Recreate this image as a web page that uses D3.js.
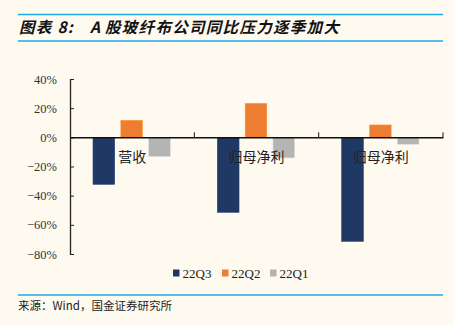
<!DOCTYPE html>
<html>
<head>
<meta charset="utf-8">
<script src="https://cdn.jsdelivr.net/npm/d3@7"></script>
<style>
  body { margin: 0; background: #fefaf0; }
  svg { display: block; }
</style>
</head>
<body>
<div class="chart"></div>
<script>
const categories = ["营收", "归母净利", "归母净利"]
const seriesNames = ["22Q3", "22Q2", "22Q1"]
const q3 = [-32.2, -51.4, -71.3]
const q2 = [11.7, 23.3, 8.5]
const q1 = [-13.2, -14.1, -4.8]
const yTicks = [40, 20, 0, -20, -40, -60, -80]
const colors = ["#1f3864", "#ed7d31", "#b4b4b4"]

const series = [q3, q2, q1]
const data = categories.map((c, i) => ({
    idx: i,
    cat: c,
    values: seriesNames.map((s, j) => ({ s: s, v: series[j][i], color: colors[j] }))
}))

let width = 454
let height = 325
let margin = {top: 79, bottom: 71, left: 70, right: 11}
let w = width - margin.left - margin.right
let h = height - margin.top - margin.bottom

const svg = d3.select(".chart")
    .append("svg")
    .attr("width", width)
    .attr("height", height)

svg.append("rect")
    .attr("width", width)
    .attr("height", height)
    .attr("fill", "#fefaf0")

// title and rules
svg.append("line")
    .attr("x1", 18).attr("x2", 443)
    .attr("y1", 14.5).attr("y2", 14.5)
    .attr("stroke", "#1ea8e8").attr("stroke-width", 1.5)
svg.append("line")
    .attr("x1", 18).attr("x2", 443)
    .attr("y1", 41).attr("y2", 41)
    .attr("stroke", "#1ea8e8").attr("stroke-width", 1.5)

const titleParts = [
    {x: 19, t: "图表 8:"},
    {x: 90, t: "A"},
    {x: 105, t: "股玻纤布公司同比压力逐季加大"}
]
svg.selectAll(".title")
    .data(titleParts)
    .enter()
    .append("text")
    .attr("x", d => d.x)
    .attr("y", 33)
    .attr("font-family", "'Noto Sans CJK SC', sans-serif")
    .attr("font-size", 15.5)
    .attr("font-weight", "bold")
    .attr("font-style", "italic")
    .attr("letter-spacing", 1.3)
    .attr("fill", "#111")
    .text(d => d.t)

svg.append("line")
    .attr("x1", 18).attr("x2", 443)
    .attr("y1", 295).attr("y2", 295)
    .attr("stroke", "#1ea8e8").attr("stroke-width", 1.5)
svg.append("text")
    .attr("x", 18)
    .attr("y", 310)
    .attr("font-family", "'Noto Sans CJK SC', sans-serif")
    .attr("font-size", 11.5)
    .attr("fill", "#222")
    .text("来源：Wind，国金证券研究所")

const g = svg.append("g")
    .attr("transform", `translate(${margin.left}, ${margin.top})`)

const xScale = d3.scaleBand()
    .domain(data.map(d => d.idx))
    .range([0, w])
    .padding(0)

const xInner = d3.scaleBand()
    .domain(seriesNames)
    .range([23, xScale.bandwidth() - 24])
    .paddingInner(0.22)

const yScale = d3.scaleLinear()
    .domain([-80, 40])
    .range([h, 0])

const yAxis = d3.axisLeft(yScale)
    .tickValues(yTicks)
    .tickFormat(d => (d < 0 ? "\u2212" + Math.abs(d) : d) + "%")
    .tickSizeInner(-4)
    .tickSizeOuter(0)
    .tickPadding(13)

g.append("g")
    .attr("class", "axis y-axis")
    .call(yAxis)
    .call(a => a.select(".domain").attr("stroke", "#222").attr("stroke-width", 1.3))
    .call(a => a.selectAll(".tick line").attr("stroke", "#222"))
    .call(a => a.selectAll("text")
        .attr("font-family", "'Liberation Serif', serif")
        .attr("font-size", 12.5)
        .attr("fill", "#333"))

// bars
const groups = g.selectAll(".group")
    .data(data)
    .enter()
    .append("g")
    .attr("transform", d => `translate(${xScale(d.idx)}, 0)`)

groups.selectAll("rect")
    .data(d => d.values)
    .enter()
    .append("rect")
    .attr("x", d => xInner(d.s))
    .attr("y", d => yScale(Math.max(0, d.v)))
    .attr("width", xInner.bandwidth())
    .attr("height", d => Math.abs(yScale(d.v) - yScale(0)))
    .attr("fill", d => d.color)
    .attr("stroke", d => d3.color(d.color).brighter(0.6))
    .attr("stroke-width", 0.6)

// zero axis with category ticks
const xAxis = d3.axisBottom(xScale)
    .tickValues([])
    .tickSizeOuter(0)

g.append("g")
    .attr("transform", `translate(0, ${yScale(0)})`)
    .call(xAxis)
    .call(a => a.select(".domain").attr("stroke", "#111").attr("stroke-width", 1.5))

g.selectAll(".cat-tick")
    .data(data)
    .enter()
    .append("line")
    .attr("x1", d => xScale(d.idx) + xScale.bandwidth())
    .attr("x2", d => xScale(d.idx) + xScale.bandwidth())
    .attr("y1", yScale(0))
    .attr("y2", yScale(0) - 5)
    .attr("stroke", "#111")

g.selectAll(".cat-label")
    .data(data)
    .enter()
    .append("text")
    .attr("x", d => xScale(d.idx) + xScale.bandwidth() / 2)
    .attr("y", yScale(0) + 25)
    .attr("text-anchor", "middle")
    .attr("font-family", "'Noto Sans CJK SC', sans-serif")
    .attr("font-size", 14)
    .attr("fill", "#222")
    .text(d => d.cat)

// legend
const legendX = [173, 222, 270]
const legend = svg.selectAll(".legend")
    .data(seriesNames)
    .enter()
    .append("g")
    .attr("transform", (d, i) => `translate(${legendX[i]}, 273)`)

legend.append("rect")
    .attr("x", 0)
    .attr("y", -3.5)
    .attr("width", 6.5)
    .attr("height", 7)
    .attr("fill", (d, i) => colors[i])

legend.append("text")
    .attr("x", 9.5)
    .attr("y", 4.5)
    .attr("font-family", "'Liberation Serif', serif")
    .attr("font-size", 13)
    .attr("fill", "#222")
    .text(d => d)
</script>
</body>
</html>
